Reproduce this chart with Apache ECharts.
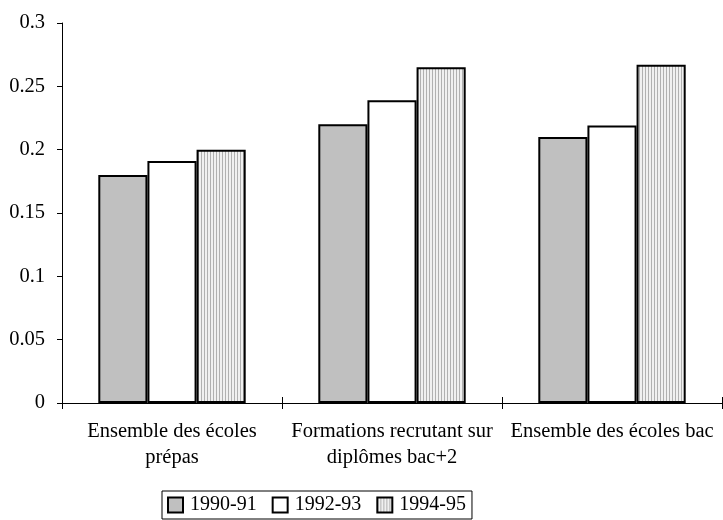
<!DOCTYPE html>
<html>
<head>
<meta charset="utf-8">
<script src="https://cdn.jsdelivr.net/npm/echarts@6/dist/echarts.min.js"></script>
<style>html,body{margin:0;padding:0;background:#fff;}#c{width:723px;height:520px;}</style>
</head>
<body>
<div id="c"></div>
<script>
var categories = ['Ensemble des écoles\nprépas', 'Formations recrutant sur\ndiplômes bac+2', 'Ensemble des écoles bac'];
var seriesNames = ['1990-91', '1992-93', '1994-95'];
var s1990 = [0.18, 0.22, 0.21];
var s1992 = [0.191, 0.239, 0.219];
var s1994 = [0.200, 0.265, 0.267];
var yTicks = [0, 0.05, 0.1, 0.15, 0.2, 0.25, 0.3];

var pc = document.createElement('canvas');
pc.width = 3; pc.height = 4;
var ctx = pc.getContext('2d');
ctx.fillStyle = '#f0f0f0'; ctx.fillRect(0, 0, 3, 4);
ctx.fillStyle = '#b0b0b0'; ctx.fillRect(0, 0, 1, 4);

var font = '"Liberation Serif", "Times New Roman", serif';
var chart = echarts.init(document.getElementById('c'), null, {renderer: 'canvas'});
function bar(name, data, color) {
  return {
    name: name, type: 'bar', data: data, barGap: '0%', barCategoryGap: '33%',
    itemStyle: {color: color, borderColor: '#000', borderWidth: 2},
    emphasis: {disabled: true}
  };
}
chart.setOption({
  animation: false,
  grid: {left: 62, right: 1, top: 23, bottom: 117},
  xAxis: [{
    type: 'category', data: categories,
    axisLine: {lineStyle: {color: '#000', width: 1}},
    axisTick: {show: true, length: 6, lineStyle: {color: '#000'}},
    axisLabel: {interval: 0, color: '#000', fontFamily: font, fontSize: 20.5, lineHeight: 26, margin: 16}
  }, {
    type: 'category', data: categories, position: 'bottom',
    axisLine: {show: false},
    axisTick: {show: true, inside: true, length: 6, lineStyle: {color: '#000'}},
    axisLabel: {show: false}
  }],
  yAxis: {
    type: 'value', min: 0, max: 0.3, interval: 0.05,
    axisLine: {show: true, lineStyle: {color: '#000', width: 1}},
    axisTick: {show: true, length: 5, lineStyle: {color: '#000'}},
    splitLine: {show: false},
    axisLabel: {color: '#000', fontFamily: font, fontSize: 20.5, margin: 17,
      formatter: function (v) { return String(parseFloat(v.toFixed(2))); }}
  },
  legend: {
    data: seriesNames, bottom: 1, left: 162,
    borderColor: '#000', borderWidth: 1, padding: [4, 6, 4, 5],
    itemWidth: 15, itemHeight: 15, itemGap: 15,
    textStyle: {color: '#000', fontFamily: font, fontSize: 20, padding: [0, 0, 0, 2]},
    icon: 'rect'
  },
  series: [
    bar(seriesNames[0], s1990, '#c0c0c0'),
    bar(seriesNames[1], s1992, '#ffffff'),
    bar(seriesNames[2], s1994, {image: pc, repeat: 'repeat'})
  ]
});
</script>
</body>
</html>
